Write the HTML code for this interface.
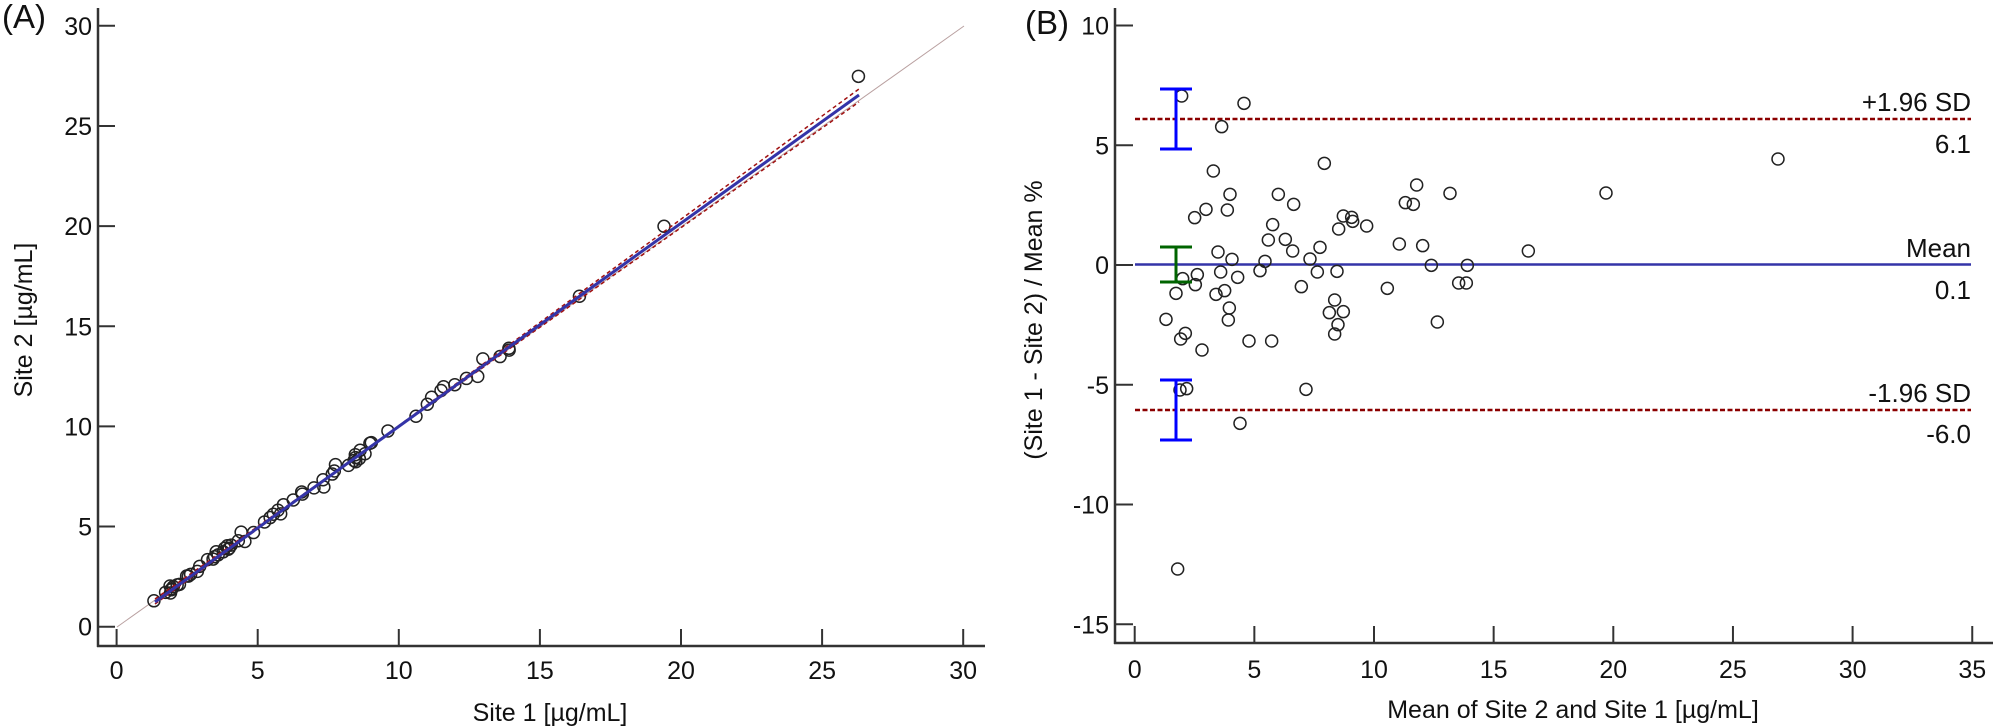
<!DOCTYPE html>
<html><head><meta charset="utf-8">
<style>
html,body{margin:0;padding:0;background:#fff;}
svg{display:block;font-family:"Liberation Sans",Arial,sans-serif;}
</style></head>
<body>
<svg id="s" width="1996" height="728" viewBox="0 0 1996 728" xmlns="http://www.w3.org/2000/svg">
<rect width="1996" height="728" fill="#fff"/>
<!-- Panel A -->
<text x="2" y="28" font-size="33" fill="#111">(A)</text>
<line x1="117" y1="627" x2="964" y2="26" stroke="#b9a0a0" stroke-width="1"/>
<g id="Apts"></g>
<line x1="155" y1="604" x2="859" y2="89" stroke="#a01010" stroke-width="1.5" stroke-dasharray="4,3"/>
<line x1="155" y1="599" x2="859" y2="102" stroke="#a01010" stroke-width="1.5" stroke-dasharray="4,3"/>
<line x1="155" y1="602" x2="859" y2="95" stroke="#3434a8" stroke-width="3"/>
<g stroke="#333" stroke-width="2.5" fill="none">
<line x1="98" y1="8" x2="98" y2="647"/>
<line x1="97" y1="646" x2="985" y2="646"/>
</g>
<g id="Aticks" stroke="#333" stroke-width="2"></g>
<g id="Alabels" font-size="25" fill="#111"></g>
<text x="550" y="721" font-size="25" text-anchor="middle" fill="#111">Site 1 [µg/mL]</text>
<text transform="translate(32,320) rotate(-90)" font-size="25" text-anchor="middle" fill="#111">Site 2 [µg/mL]</text>

<!-- Panel B -->
<text x="1025" y="34" font-size="33" fill="#111">(B)</text>
<line x1="1135" y1="119" x2="1971" y2="119" stroke="#8b0000" stroke-width="2.5" stroke-dasharray="5,2.5"/>
<line x1="1135" y1="410" x2="1971" y2="410" stroke="#8b0000" stroke-width="2.5" stroke-dasharray="5,2.5"/>
<line x1="1135" y1="264.5" x2="1971" y2="264.5" stroke="#3434a8" stroke-width="2.5"/>
<g id="Bpts"></g>
<g stroke="#0000ff" stroke-width="3">
<line x1="1176" y1="89" x2="1176" y2="149"/><line x1="1160" y1="89" x2="1192" y2="89"/><line x1="1160" y1="149" x2="1192" y2="149"/>
<line x1="1176" y1="380" x2="1176" y2="440"/><line x1="1160" y1="380" x2="1192" y2="380"/><line x1="1160" y1="440" x2="1192" y2="440"/>
</g>
<g stroke="#006400" stroke-width="3">
<line x1="1176" y1="247" x2="1176" y2="282"/><line x1="1160" y1="247" x2="1192" y2="247"/><line x1="1160" y1="282" x2="1192" y2="282"/>
</g>
<g font-size="26" fill="#111" text-anchor="end">
<text x="1971" y="111">+1.96 SD</text>
<text x="1971" y="153">6.1</text>
<text x="1971" y="257">Mean</text>
<text x="1971" y="299">0.1</text>
<text x="1971" y="402">-1.96 SD</text>
<text x="1971" y="443">-6.0</text>
</g>
<g stroke="#333" stroke-width="2.5" fill="none">
<line x1="1115" y1="8" x2="1115" y2="644"/>
<line x1="1114" y1="643" x2="1993" y2="643"/>
</g>
<g id="Bticks" stroke="#333" stroke-width="2"></g>
<g id="Blabels" font-size="25" fill="#111"></g>
<text x="1573" y="718" font-size="25" text-anchor="middle" fill="#111">Mean of Site 2 and Site 1 [µg/mL]</text>
<text transform="translate(1042,320) rotate(-90)" font-size="25" text-anchor="middle" fill="#111">(Site 1 - Site 2) / Mean %</text>
</svg>
<script>
var NS="http://www.w3.org/2000/svg";
function el(p,t,a,txt){var e=document.createElementNS(NS,t);for(var k in a)e.setAttribute(k,a[k]);if(txt!==undefined)e.textContent=txt;document.getElementById(p).appendChild(e);}
for(var v=0;v<=30;v+=5){
 var y=626.7-20.03*v; el("Aticks","line",{x1:98,y1:y,x2:115,y2:y});
 el("Alabels","text",{x:92,y:y+9,"text-anchor":"end"},String(v));
 var x=116.6+28.22*v; el("Aticks","line",{x1:x,y1:646,x2:x,y2:629});
 el("Alabels","text",{x:x,y:679,"text-anchor":"middle"},String(v));
}
for(var v=-15;v<=10;v+=5){
 var y=265-23.95*v; el("Bticks","line",{x1:1115,y1:y,x2:1133,y2:y});
 el("Blabels","text",{x:1109,y:y+9,"text-anchor":"end"},String(v));
}
for(var v=0;v<=35;v+=5){
 var x=1134.7+23.93*v; el("Bticks","line",{x1:x,y1:643,x2:x,y2:626});
 el("Blabels","text",{x:x,y:678,"text-anchor":"middle"},String(v));
}
var z7=[[155,48],[342,70],[275,140],[583,250],[250,273],[860,315],[960,340],[300,343],[445,343],[491,373],[826,368],[850,373],[228,388],[292,390],[194,413],[640,408],[665,412],[668,424],[710,438],[626,447],[428,434],[415,480],[466,478],[570,502],[488,513],[808,492],[878,497],[1195,513],[264,516],[306,538],[540,537],[405,544],[390,572],[272,576],[202,584],[158,596],[323,592],[562,576],[621,574],[904,556],[1012,556],[196,614],[138,640],[258,643],[284,632],[514,620],[772,625],[986,609],[1009,609],[614,660],[298,684],[598,698],[640,695],[108,718],[295,720],[624,734],[922,726],[614,762],[166,760],[152,777],[216,810],[357,783],[425,783]];
var pts=[];
z7.forEach(function(p){pts.push([1130+p[0]/3,80+p[1]/3]);});
[[150,180],[170,176],[528,178],[330,280],[143,717]].forEach(function(p){pts.push([1130+p[0]/3,330+p[1]/3]);});
pts.push([1606,193]);pts.push([1778,159]);
pts.forEach(function(p){
 el("Bpts","circle",{cx:p[0],cy:p[1],r:6,fill:"none",stroke:"#222","stroke-width":1.5});
 var m=(p[0]-1134.7)/23.93, d=(265-p[1])/23.95;
 var ax=m*(1-d/200), ay=m*(1+d/200);
 el("Apts","circle",{cx:116.6+28.22*ax,cy:626.7-20.03*ay,r:6,fill:"none",stroke:"#222","stroke-width":1.5});
});
</script>
</body></html>
